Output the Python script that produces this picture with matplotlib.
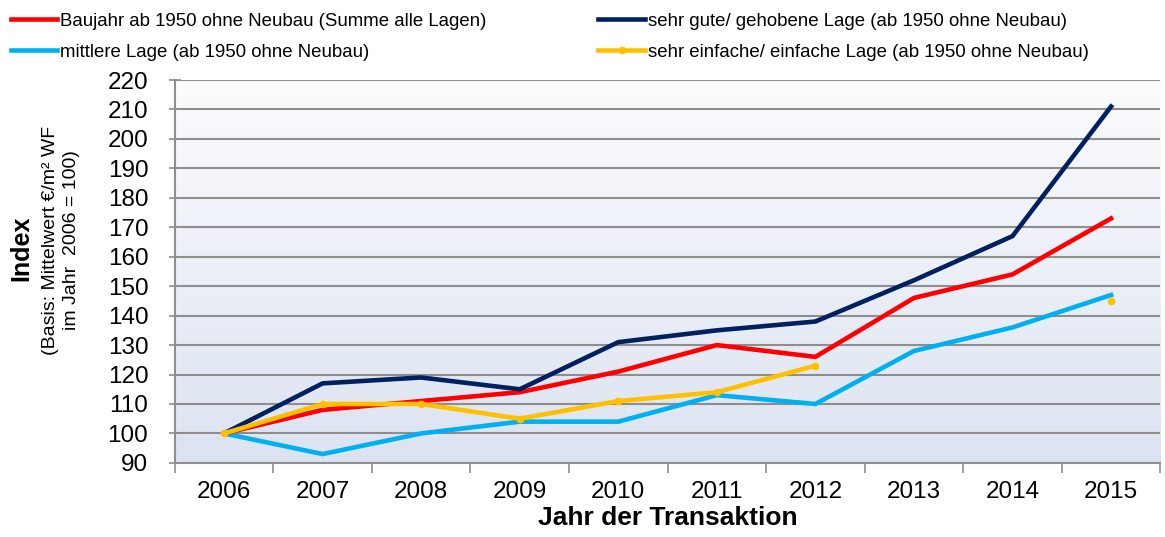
import numpy as np
import matplotlib
matplotlib.use("Agg")
import matplotlib.pyplot as plt
from matplotlib.colors import LinearSegmentedColormap

plt.rcParams['font.family'] = ['Liberation Sans', 'DejaVu Sans']

jahre = ["2006", "2007", "2008", "2009", "2010", "2011", "2012", "2013", "2014", "2015"]
summe = [100, 108, 111, 114, 121, 130, 126, 146, 154, 173]
gehoben = [100, 117, 119, 115, 131, 135, 138, 152, 167, 211]
mittel = [100, 93, 100, 104, 104, 113, 110, 128, 136, 147]
einfach = [100, 110, 110, 105, 111, 114, 123, np.nan, np.nan, 145]

namen = [
    "Baujahr ab 1950 ohne Neubau (Summe alle Lagen)",
    "sehr gute/ gehobene Lage (ab 1950 ohne Neubau)",
    "mittlere Lage (ab 1950 ohne Neubau)",
    "sehr einfache/ einfache Lage (ab 1950 ohne Neubau)",
]

fig = plt.figure(figsize=(11.65, 5.37), dpi=100)
ax = fig.add_axes([0.150, 0.138, 0.846, 0.713])

x = np.arange(len(jahre))

# Hintergrund mit Verlauf (oben hell, unten blaeulich)
cmap = LinearSegmentedColormap.from_list("bg", ["#fbfcfd", "#dce3f1"])
grad = np.linspace(0, 1, 256).reshape(-1, 1)
ax.imshow(grad, extent=[-0.5, len(jahre) - 0.5, 90, 220], origin="upper",
          aspect="auto", cmap=cmap, zorder=0)

for y in range(100, 221, 10):
    ax.axhline(y, color="#8e8e8e", lw=1.5, zorder=1)

l1, = ax.plot(x, summe, color="#ff0000", lw=3.3, zorder=3, solid_joinstyle="miter")
l2, = ax.plot(x, gehoben, color="#002060", lw=3.3, zorder=3, solid_joinstyle="miter")
l3, = ax.plot(x, mittel, color="#00b0f0", lw=3.3, zorder=2, solid_joinstyle="miter")
l4, = ax.plot(x, einfach, color="#ffc000", lw=3.3, zorder=3, marker="o", markersize=4.5,
              solid_joinstyle="miter")

ax.set_xlim(-0.5, len(jahre) - 0.5)
ax.set_ylim(90, 220)
ax.set_yticks(range(90, 221, 10))
ax.tick_params(axis="y", labelsize=17.5, length=8, direction="inout", color="#8e8e8e",
               width=1.2, pad=15)
ax.set_xticks(x)
ax.set_xticklabels(jahre, fontsize=17.5)
ax.tick_params(axis="x", length=0, pad=13)
ax.set_xticks(np.arange(-0.5, len(jahre)), minor=True)
ax.tick_params(axis="x", which="minor", length=7, color="#8e8e8e", width=1.2)

for s in ["top", "right"]:
    ax.spines[s].set_visible(False)
for s in ["left", "bottom"]:
    ax.spines[s].set_color("#8e8e8e")
    ax.spines[s].set_linewidth(1.5)

ax.set_xlabel("Jahr der Transaktion", fontsize=19, fontweight="bold", labelpad=2)

fig.text(0.018, 0.537, "Index", rotation=90, fontsize=18, fontweight="bold",
         ha="center", va="center")
fig.text(0.0525, 0.553, "(Basis: Mittelwert €/m² WF\nim Jahr  2006 = 100)", rotation=90,
         fontsize=14, ha="center", va="center", linespacing=1.3, multialignment="center")

fig.legend([l1, l3, l2, l4], [namen[0], namen[2], namen[1], namen[3]], ncol=2,
           loc="upper left", bbox_to_anchor=(0.003, 0.99), frameon=False, fontsize=13.4,
           handlelength=2.5, handletextpad=0.15, columnspacing=6.0, labelspacing=0.75,
           borderaxespad=0.0)

fig.savefig("out.png", dpi=100)
